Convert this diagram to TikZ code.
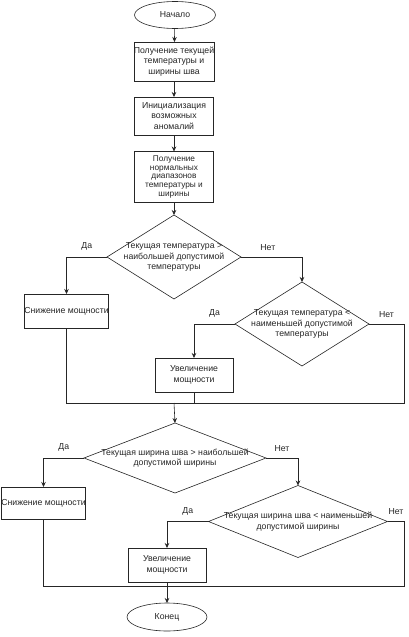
\documentclass[tikz,border=0pt]{standalone}
\usepackage{fontspec}
\setmainfont{Liberation Sans}
\usepackage{tikz}
\usetikzlibrary{shapes.geometric,arrows.meta}

\begin{document}
\begin{tikzpicture}[
    x=1pt, y=-1pt,
    every node/.style={font=\fontsize{8.7}{10.5}\selectfont, text=black!85},
    box/.style={draw, rectangle, fill=white, minimum width=79pt, align=center, inner xsep=0pt, inner ysep=1pt, outer sep=0pt},
    term/.style={draw, ellipse, fill=white, inner sep=0pt, outer sep=0pt},
    decision/.style={draw, diamond, fill=white, inner sep=0pt, outer sep=0pt},
    arr/.style={-{Stealth[length=5pt,width=4.5pt]}},
    line width=0.6pt, draw=black!85
]
    \useasboundingbox (0,0) rectangle (409,637);

    % Start and input
    \node[term, minimum width=81pt, minimum height=27pt] (start) at (175,15) {Начало};
    \node[box, minimum height=39pt] (getdata) at (174,61.5) {Получение текущей\\температуры и\\ширины шва};
    \node[box, minimum height=38pt] (init) at (174,116) {Инициализация\\возможных\\аномалий};
    \node[box, minimum height=51pt, font=\fontsize{8.3}{8.7}\selectfont] (ranges) at (174,177) {Получение\\нормальных\\диапазонов\\температуры и\\ширины};

    \draw[arr] (start) -- (getdata);
    \draw[arr] (getdata) -- (init);
    \draw[arr] (init) -- (ranges);

    % Temperature check
    \node[decision, minimum width=134pt, minimum height=84pt,
        label={[align=center]center:Текущая температура >\\наибольшей допустимой\\температуры}] (tempHigh) at (174,257) {};
    \node[box, minimum width=81pt, minimum height=34pt] (powDownT) at (66.5,311) {Снижение мощности};
    \node[decision, minimum width=134pt, minimum height=84pt,
        label={[align=center]center:Текущая температура <\\наименьшей допустимой\\температуры}] (tempLow) at (302,324) {};
    \node[box, minimum width=78pt, minimum height=34pt] (powUpT) at (194,375) {Увеличение\\мощности};
    \coordinate (joinT) at (174,403);

    \draw[arr] (ranges) -- (tempHigh);
    \draw[arr] (tempHigh.west) -| node[pos=0.25, above=3pt] {Да} (powDownT.north);
    \draw[arr] (tempHigh.east) -| node[pos=0.22, above=3pt] {Нет} (tempLow.north);
    \draw[arr] (tempLow.west) -| node[pos=0.25, above=3pt] {Да} (powUpT.north);
    \draw (tempLow.east) -- node[above=3pt] {Нет} ++(35,0) |- (joinT);
    \draw (powDownT.south) |- (joinT);
    \draw (powUpT.south) -- (powUpT.south |- joinT);

    % Seam width check
    \node[decision, minimum width=182pt, minimum height=70pt,
        label={[align=center]center:Текущая ширина шва > наибольшей\\допустимой ширины}] (widthHigh) at (175,458) {};
    \node[box, minimum height=32pt] (powDownW) at (43.5,503) {Снижение мощности};
    \node[decision, minimum width=179pt, minimum height=72pt,
        label={[align=center]center:Текущая ширина шва < наименьшей\\допустимой ширины}] (widthLow) at (298,521.5) {};
    \node[box, minimum width=78pt, minimum height=34pt] (powUpW) at (167,565) {Увеличение\\мощности};
    \node[term, minimum width=80pt, minimum height=28pt] (finish) at (167,617) {Конец};
    \coordinate (joinW) at (167,586);

    \draw[arr] (joinT) -- (widthHigh.north);
    \draw[arr] (widthHigh.west) -| node[pos=0.25, above=3pt] {Да} (powDownW.north);
    \draw[arr] (widthHigh.east) -| node[pos=0.25, above=3pt] {Нет} (widthLow.north);
    \draw[arr] (widthLow.west) -| node[pos=0.25, above=3pt] {Да} (powUpW.north);
    \draw (widthLow.east) -- node[above=3pt] {Нет} ++(17,0) |- (joinW);
    \draw (powDownW.south) |- (joinW);
    \draw[arr] (powUpW.south) -- (finish.north);
\end{tikzpicture}
\end{document}
